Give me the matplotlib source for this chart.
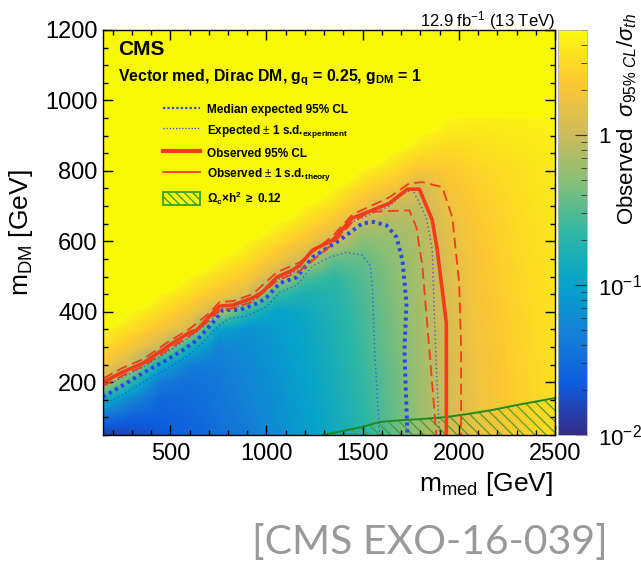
import numpy as np
import matplotlib
matplotlib.use("Agg")
import matplotlib.pyplot as plt
from matplotlib.colors import LinearSegmentedColormap, Normalize
from matplotlib.lines import Line2D
from matplotlib.patches import Patch
from matplotlib.ticker import MultipleLocator, FixedLocator

plt.rcParams['font.family'] = ['Liberation Sans', 'DejaVu Sans']
plt.rcParams['mathtext.fontset'] = 'custom'
plt.rcParams['mathtext.rm'] = 'Liberation Sans'
plt.rcParams['mathtext.it'] = 'Liberation Sans:italic'
plt.rcParams['mathtext.bf'] = 'Liberation Sans:bold'
plt.rcParams['mathtext.sf'] = 'Liberation Sans'
plt.rcParams['hatch.linewidth'] = 0.9

# ---------------- data ----------------
# heat-map grid (log10 of observed sigma_95%CL / sigma_th)
m_med_grid = [150, 300, 450, 600, 750, 900, 1050, 1200, 1350, 1500, 1650, 1800,
              1950, 2100, 2250, 2400, 2550]
m_dm_grid = [50, 100, 150, 200, 250, 300, 350, 400, 450, 500, 550, 600, 650, 700,
             750, 800, 850, 900, 950, 1000, 1050, 1100, 1150, 1200]
OV = 1.0  # above colour-scale maximum
log10_ratio_cols = [
    [-1.9, -1.45, -0.85, 0.0, 0.3, 0.5, 0.65] + [OV] * 17,
    [-1.8, -1.6, -1.3, -0.7, 0.0, 0.3, 0.5, 0.65] + [OV] * 16,
    [-1.7, -1.62, -1.55, -1.4, -0.9, 0.0, 0.3, 0.5, 0.65] + [OV] * 15,
    [-1.6, -1.56, -1.52, -1.47, -1.35, -0.8, 0.05, 0.3, 0.5, 0.65] + [OV] * 14,
    [-1.5, -1.46, -1.43, -1.4, -1.36, -1.3, -1.0, -0.05, 0.3, 0.5, 0.65] + [OV] * 13,
    [-1.38, -1.34, -1.31, -1.28, -1.25, -1.21, -1.15, -0.7, 0.1, 0.35, 0.52, 0.65] + [OV] * 12,
    [-1.22, -1.19, -1.17, -1.15, -1.12, -1.1, -1.07, -1.0, -0.6, 0.0, 0.3, 0.5, 0.65] + [OV] * 11,
    [-1.06, -1.04, -1.02, -1.0, -0.98, -0.96, -0.94, -0.9, -0.8, -0.5, 0.0, 0.3, 0.5,
     0.65] + [OV] * 10,
    [-0.9, -0.88, -0.86, -0.84, -0.82, -0.8, -0.78, -0.76, -0.72, -0.65, -0.45, 0.0,
     0.3, 0.5, 0.65] + [OV] * 9,
    [-0.7, -0.68, -0.66, -0.64, -0.62, -0.6, -0.58, -0.56, -0.53, -0.5, -0.44, -0.32,
     -0.08, 0.25, 0.45, 0.62] + [OV] * 8,
    [-0.47, -0.46, -0.45, -0.44, -0.42, -0.4, -0.38, -0.36, -0.34, -0.32, -0.29, -0.24,
     -0.16, -0.02, 0.3, 0.5, 0.65] + [OV] * 7,
    [-0.24, -0.23, -0.22, -0.21, -0.2, -0.19, -0.18, -0.17, -0.16, -0.15, -0.14, -0.12,
     -0.1, -0.06, 0.02, 0.3, 0.5, 0.65] + [OV] * 6,
    [0.03, 0.04, 0.05, 0.06, 0.07, 0.08, 0.09, 0.1, 0.11, 0.12, 0.14, 0.16,
     0.2, 0.24, 0.3, 0.36, 0.45, 0.55, 0.65] + [OV] * 5,
    [0.22, 0.23, 0.24, 0.25, 0.26, 0.27, 0.28, 0.29, 0.3, 0.31, 0.32, 0.34,
     0.36, 0.38, 0.41, 0.44, 0.5, 0.56, 0.63] + [OV] * 5,
    [0.36, 0.36, 0.37, 0.37, 0.38, 0.38, 0.39, 0.4, 0.41, 0.42, 0.43, 0.44,
     0.45, 0.46, 0.48, 0.5, 0.54, 0.58, 0.64] + [OV] * 5,
    [0.46, 0.46, 0.46, 0.47, 0.47, 0.48, 0.48, 0.49, 0.5, 0.5, 0.51, 0.52,
     0.53, 0.54, 0.55, 0.56, 0.58, 0.61, 0.65] + [OV] * 5,
    [0.52, 0.52, 0.52, 0.53, 0.53, 0.54, 0.54, 0.55, 0.55, 0.56, 0.56, 0.57,
     0.58, 0.58, 0.59, 0.6, 0.62, 0.64, 0.67] + [OV] * 5,
]

# observed 95% CL contour
obs_med = [150, 250, 358, 482, 602, 638, 700, 757, 825, 928, 980, 1053, 1136, 1172,
           1240, 1344, 1447, 1550, 1639, 1733, 1795, 1862, 1888, 1914, 1935, 1935]
obs_dm = [200, 228, 254, 300, 342, 348, 385, 416, 419, 439, 456, 498, 518, 532,
          575, 603, 666, 688, 708, 748, 748, 660, 575, 461, 368, 50]
# observed +/- 1 s.d. theory
thup_med = [150, 250, 358, 482, 602, 700, 757, 825, 928, 1053, 1172, 1344, 1447,
            1639, 1743, 1811, 1914, 1966, 2002, 2012, 2012]
thup_dm = [210, 240, 265, 312, 352, 395, 428, 430, 450, 512, 540, 615, 676,
           725, 765, 768, 754, 668, 481, 291, 50]
thdn_med = [150, 250, 358, 482, 602, 700, 757, 825, 928, 1053, 1172, 1344, 1447,
            1536, 1640, 1743, 1779, 1811, 1847, 1883]
thdn_dm = [190, 218, 245, 290, 332, 375, 405, 410, 428, 488, 515, 592, 655,
           683, 686, 688, 640, 527, 291, 50]
# median expected
exp_med = [150, 238, 358, 482, 565, 638, 742, 773, 861, 965, 1001, 1069, 1157, 1240,
           1380, 1499, 1560, 1624, 1676, 1707, 1728, 1717, 1725, 1733]
exp_dm = [158, 186, 226, 263, 291, 319, 382, 405, 405, 427, 441, 481, 498, 555,
          603, 651, 655, 645, 612, 546, 424, 291, 170, 50]
# expected +/- 1 s.d. experiment
expup_med = [150, 238, 358, 482, 602, 700, 757, 825, 928, 1053, 1172, 1344, 1447,
             1639, 1700, 1759, 1831, 1862, 1873, 1883, 1899]
expup_dm = [185, 210, 243, 285, 328, 370, 400, 410, 430, 490, 520, 595, 655,
            700, 730, 748, 668, 575, 385, 243, 50]
expdn_med = [150, 238, 358, 482, 565, 638, 742, 800, 900, 1001, 1069, 1157, 1240,
             1330, 1416, 1500, 1540, 1551, 1562, 1575, 1588]
expdn_dm = [135, 160, 200, 238, 265, 295, 355, 380, 388, 415, 455, 475, 530,
            555, 569, 560, 530, 461, 291, 170, 50]
# relic density line
relic_med = [1292, 1400, 1499, 1587, 1700, 1800, 1935, 2050, 2174, 2300, 2400, 2500]
relic_dm = [50, 62, 73, 87, 92, 95, 101, 110, 121, 135, 145, 155]

legend_labels = [
    "Median expected 95% CL",
    r"Expected $\pm$ 1 s.d.$_{\mathbf{experiment}}$",
    "Observed 95% CL",
    r"Observed $\pm$ 1 s.d.$_{\mathbf{theory}}$",
    r"$\mathbf{\Omega_c{\times}h^2\ \geq\ 0.12}$",
]

# ---------------- figure ----------------
W, H = 641, 562
fig = plt.figure(figsize=(W / 100, H / 100), dpi=100)
ax = fig.add_axes([103 / W, 1 - 435 / H, 452 / W, 405 / H])
cax = fig.add_axes([558 / W, 1 - 435 / H, 29 / W, 405 / H])

stops = [0.0, 0.125, 0.25, 0.375, 0.5, 0.625, 0.75, 0.875, 1.0]
reds = [0.2082, 0.0592, 0.0780, 0.0232, 0.1802, 0.5301, 0.8186, 0.9956, 0.9764]
greens = [0.1664, 0.3599, 0.5041, 0.6419, 0.7178, 0.7492, 0.7328, 0.7862, 0.9832]
blues = [0.5293, 0.8684, 0.8385, 0.7914, 0.6425, 0.4662, 0.3499, 0.1968, 0.0539]
bird = LinearSegmentedColormap.from_list(
    "bird", list(zip(stops, zip(reds, greens, blues))), N=512)
bird.set_over((0.976, 0.975, 0.02))
norm = Normalize(vmin=-2.0, vmax=0.7)

Z = np.array(log10_ratio_cols).T
dx = (m_med_grid[1] - m_med_grid[0]) / 2
dy = (m_dm_grid[1] - m_dm_grid[0]) / 2
im = ax.imshow(Z, origin="lower", aspect="auto", cmap=bird, norm=norm,
               extent=[m_med_grid[0] - dx, m_med_grid[-1] + dx,
                       m_dm_grid[0] - dy, m_dm_grid[-1] + dy],
               interpolation="bilinear", interpolation_stage="data")

red = "#f23c1c"
blue = "#2846f0"
green = "#1f8a1f"

ax.fill_between(relic_med, relic_dm, 50, facecolor="none", edgecolor="#4f9a2a",
                hatch="\\\\\\", linewidth=0)
ax.plot(relic_med, relic_dm, color=green, lw=1.4)

ax.plot(expdn_med, expdn_dm, color=blue, lw=1.0, ls=(0, (1, 2)), alpha=0.8)
ax.plot(expup_med, expup_dm, color=blue, lw=1.0, ls=(0, (1, 2)), alpha=0.8)
ax.plot(exp_med, exp_dm, color=blue, lw=2.8, ls=(0, (0.8, 1.0)))
ax.plot(thdn_med, thdn_dm, color=red, lw=1.3, ls=(0, (6, 3)))
ax.plot(thup_med, thup_dm, color=red, lw=1.3, ls=(0, (6, 3)))
ax.plot(obs_med, obs_dm, color=red, lw=2.6)

ax.set_xlim(150, 2500)
ax.set_ylim(50, 1200)
ax.xaxis.set_major_locator(FixedLocator([500, 1000, 1500, 2000, 2500]))
ax.xaxis.set_minor_locator(MultipleLocator(100))
ax.yaxis.set_major_locator(FixedLocator([200, 400, 600, 800, 1000, 1200]))
ax.yaxis.set_minor_locator(MultipleLocator(50))
ax.tick_params(which="both", direction="in", top=True, right=True, width=1.0)
ax.tick_params(which="major", length=7, labelsize=17)
ax.tick_params(axis="x", which="major", pad=6)
ax.tick_params(axis="y", which="major", pad=4)
ax.tick_params(which="minor", length=3.6)
for s in ax.spines.values():
    s.set_linewidth(1.0)

ax.set_xlabel(r"m$_{\mathrm{med}}$ [GeV]", fontsize=19, ha="right")
ax.xaxis.set_label_coords(0.996, -0.086)
ax.set_ylabel(r"m$_{\mathrm{DM}}$ [GeV]", fontsize=19)
ax.yaxis.set_label_coords(-0.15, 0.5)

ax.text(0.033, 0.953, "CMS", transform=ax.transAxes, fontsize=15,
        fontweight="bold", va="center")
ax.text(0.033, 0.882,
        r"Vector med, Dirac DM, $\mathbf{g}_{\mathbf{q}}$ = 0.25, $\mathbf{g}_{\mathbf{DM}}$ = 1",
        transform=ax.transAxes, fontsize=11.4, fontweight="bold", va="center")

handles = [
    Line2D([], [], color=blue, lw=1.6, ls=(0, (1, 1))),
    Line2D([], [], color=blue, lw=0.9, ls=(0, (1, 1.5))),
    Line2D([], [], color=red, lw=3.0),
    Line2D([], [], color=red, lw=1.3),
    Patch(facecolor="none", edgecolor="#2a9a2a", hatch="\\\\\\\\", lw=1.2),
]
ax.legend(handles, legend_labels, loc="upper left", bbox_to_anchor=(0.133, 0.82),
          frameon=False, prop={"weight": "bold", "size": 8.5}, handlelength=3.1,
          handleheight=1.3, handletextpad=0.6, labelspacing=0.55, borderpad=0,
          borderaxespad=0)

fig.text(555 / W, 1 - 26 / H, r"12.9 fb$^{-1}$ (13 TeV)", ha="right",
         va="baseline", fontsize=12)

# colour bar
cb = fig.colorbar(im, cax=cax, extend="neither")
cb.outline.set_edgecolor("#b0b0b0")
cb.outline.set_linewidth(0.6)
cax.yaxis.set_major_locator(FixedLocator([-2, -1, 0]))
cax.set_yticklabels([r"$10^{-2}$", r"$10^{-1}$", "1"])
minor_vals = [0.02, 0.03, 0.04, 0.05, 0.06, 0.07, 0.08, 0.09,
              0.2, 0.3, 0.4, 0.5, 0.6, 0.7, 0.8, 0.9, 2, 3, 4, 5]
cax.yaxis.set_minor_locator(FixedLocator(np.log10(minor_vals)))
cax.tick_params(which="both", direction="in", right=True, left=False,
                color="#333333", labelsize=16, pad=8)
cax.tick_params(which="major", length=9)
cax.tick_params(which="minor", length=4.5)

fig.text(633 / W, 1 - 225 / H, r"Observed  $\sigma_{95\%\ CL}/\sigma_{th}$",
         rotation=90, rotation_mode="anchor", ha="left", va="baseline", fontsize=16)

fig.text(252 / W, 1 - 554 / H, "[CMS EXO-16-039]", ha="left", va="baseline",
         fontsize=29.5, color="#999999", family=["Lato", "DejaVu Sans"])

fig.savefig("out.png", dpi=100)
